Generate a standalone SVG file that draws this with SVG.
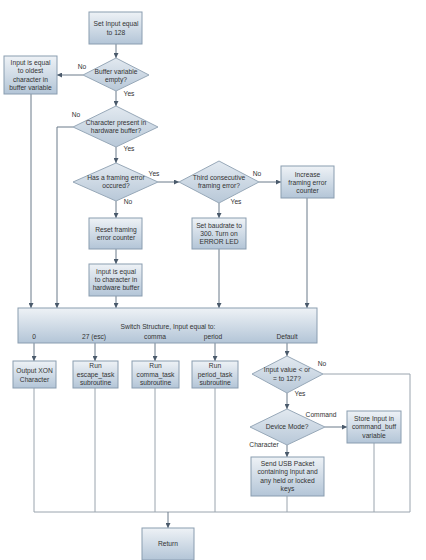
<svg xmlns="http://www.w3.org/2000/svg" width="426" height="560" viewBox="0 0 426 560">
<defs>
<linearGradient id="gb" x1="0" y1="0" x2="0" y2="1"><stop offset="0" stop-color="#eef2f6"/><stop offset="1" stop-color="#b3c5d7"/></linearGradient>
<linearGradient id="gd" x1="0" y1="0" x2="0" y2="1"><stop offset="0" stop-color="#e2e9f0"/><stop offset="1" stop-color="#b8c8d8"/></linearGradient>
<marker id="arr" markerWidth="5" markerHeight="5" refX="5" refY="2.5" orient="auto" markerUnits="userSpaceOnUse"><path d="M0,0 L5,2.5 L0,5 z" fill="#4a5a6b"/></marker>
<style>
.box{fill:url(#gb);stroke:#8a9db0;stroke-width:1}
.dia{fill:url(#gd);stroke:#97a8b8;stroke-width:1}
text{font-family:"Liberation Sans",Arial,sans-serif;font-size:6.7px;fill:#333;text-anchor:middle}
.ar{stroke:#6a7a8a;stroke-width:1;fill:none;marker-end:url(#arr)}
.ln{stroke:#9aa4ae;stroke-width:1;fill:none}
</style>
</defs>
<rect width="426" height="560" fill="#fff"/>
<g id="connectors">
<line class="ar" x1="116" y1="44" x2="116" y2="58"/>
<line class="ar" x1="83" y1="75" x2="57" y2="75"/>
<line class="ar" x1="116" y1="91" x2="116" y2="106"/>
<line class="ar" x1="116" y1="147" x2="116" y2="163"/>
<line class="ar" x1="158" y1="182" x2="179" y2="182"/>
<line class="ar" x1="116" y1="201" x2="116" y2="218"/>
<line class="ar" x1="219" y1="203" x2="219" y2="218"/>
<line class="ar" x1="259" y1="182" x2="281" y2="182"/>
<line class="ar" x1="116" y1="249" x2="116" y2="264"/>
<line class="ar" x1="116" y1="296" x2="116" y2="308"/>
<line class="ar" x1="31" y1="94" x2="31" y2="308"/>
<polyline class="ar" points="73,127 57,127 57,308"/>
<line class="ar" x1="219" y1="249" x2="219" y2="308"/>
<line class="ar" x1="307" y1="198" x2="307" y2="308"/>
<line class="ar" x1="34" y1="343" x2="34" y2="361"/>
<line class="ar" x1="95" y1="343" x2="95" y2="361"/>
<line class="ar" x1="155" y1="343" x2="155" y2="361"/>
<line class="ar" x1="215" y1="343" x2="215" y2="361"/>
<line class="ar" x1="287" y1="343" x2="287" y2="356"/>
<line class="ar" x1="287" y1="393" x2="287" y2="409"/>
<line class="ar" x1="325" y1="427" x2="347" y2="427"/>
<line class="ar" x1="287" y1="445" x2="287" y2="457"/>
<polyline class="ln" points="323,374 410,374 410,512"/>
<line class="ln" x1="34" y1="388" x2="34" y2="512"/>
<line class="ln" x1="95" y1="388" x2="95" y2="512"/>
<line class="ln" x1="155" y1="388" x2="155" y2="512"/>
<line class="ln" x1="215" y1="388" x2="215" y2="512"/>
<line class="ln" x1="287" y1="496" x2="287" y2="512"/>
<line class="ln" x1="374" y1="443" x2="374" y2="512"/>
<line class="ln" x1="34" y1="512" x2="410" y2="512"/>
<line class="ar" x1="168" y1="512" x2="168" y2="528"/>
<text x="82" y="69">No</text>
<text x="129" y="96">Yes</text>
<text x="76" y="117">No</text>
<text x="129" y="151">Yes</text>
<text x="154" y="176">Yes</text>
<text x="128" y="204">No</text>
<text x="257" y="176">No</text>
<text x="236" y="204">Yes</text>
<text x="322" y="366">No</text>
<text x="300" y="396">Yes</text>
<text x="321" y="417">Command</text>
<text x="264" y="447">Character</text>
</g>
<g id="start"><rect class="box" x="89" y="12" width="53" height="32"/><text x="116" y="25.5">Set Input equal</text><text x="116" y="34.5">to 128</text></g>
<g id="buffer-empty"><polygon class="dia" points="116,58 149,75 116,91 83,75"/><text x="116" y="73.5">Buffer variable</text><text x="116" y="81.5">empty?</text></g>
<g id="oldest"><rect class="box" x="4" y="56" width="53" height="38"/><text x="30.5" y="64.5">Input is equal</text><text x="30.5" y="73">to oldest</text><text x="30.5" y="81.5">character in</text><text x="30.5" y="90">buffer variable</text></g>
<g id="char-present"><polygon class="dia" points="116,106 158,127 116,147 73,127"/><text x="116" y="124.5">Character present in</text><text x="116" y="132.5">hardware buffer?</text></g>
<g id="framing-error"><polygon class="dia" points="116,163 158,182 116,201 73,182"/><text x="116" y="179.5">Has a framing error</text><text x="116" y="188">occured?</text></g>
<g id="third"><polygon class="dia" points="219,161 259,182 219,203 179,182"/><text x="219" y="179.5">Third consecutive</text><text x="219" y="188">framing error?</text></g>
<g id="increase"><rect class="box" x="281" y="166" width="53" height="32"/><text x="307.5" y="176.5">Increase</text><text x="307.5" y="184.5">framing error</text><text x="307.5" y="192.5">counter</text></g>
<g id="reset"><rect class="box" x="89" y="218" width="53" height="31"/><text x="116" y="231.5">Reset framing</text><text x="116" y="240">error counter</text></g>
<g id="baud"><rect class="box" x="192" y="218" width="54" height="31"/><text x="219" y="227.5">Set baudrate to</text><text x="219" y="235.5">300. Turn on</text><text x="219" y="243.5">ERROR LED</text></g>
<g id="input-hw"><rect class="box" x="89" y="264" width="53" height="32"/><text x="116" y="273.5">Input is equal</text><text x="116" y="281.5">to character in</text><text x="116" y="289.5">hardware buffer</text></g>
<g id="switch"><rect class="box" x="18" y="308" width="299" height="35"/><text x="168" y="328.5">Switch Structure, Input equal to:</text><text x="34" y="338.5">0</text><text x="94" y="338.5">27 (esc)</text><text x="155" y="338.5">comma</text><text x="213" y="338.5">period</text><text x="287" y="338.5">Default</text></g>
<g id="xon"><rect class="box" x="13" y="361" width="43" height="27"/><text x="34.5" y="373">Output XON</text><text x="34.5" y="381.5">Character</text></g>
<g id="esc"><rect class="box" x="73" y="361" width="45" height="27"/><text x="95.5" y="368">Run</text><text x="95.5" y="376.5">escape_task</text><text x="95.5" y="385">subroutine</text></g>
<g id="comma"><rect class="box" x="132" y="361" width="47" height="27"/><text x="155.5" y="368">Run</text><text x="155.5" y="376.5">comma_task</text><text x="155.5" y="385">subroutine</text></g>
<g id="period"><rect class="box" x="192" y="361" width="46" height="27"/><text x="215" y="368">Run</text><text x="215" y="376.5">period_task</text><text x="215" y="385">subroutine</text></g>
<g id="input-value"><polygon class="dia" points="287,356 323,374 287,393 252,374"/><text x="287" y="372">Input value &lt; or</text><text x="287" y="380.5">= to 127?</text></g>
<g id="device-mode"><polygon class="dia" points="287,409 325,427 287,445 250,427"/><text x="287" y="429">Device Mode?</text></g>
<g id="store"><rect class="box" x="347" y="411" width="54" height="32"/><text x="374" y="420.5">Store Input in</text><text x="374" y="429">command_buff</text><text x="374" y="437.5">variable</text></g>
<g id="usb"><rect class="box" x="251" y="457" width="73" height="39"/><text x="287.5" y="465.5">Send USB Packet</text><text x="287.5" y="474">containing Input and</text><text x="287.5" y="482.5">any held or locked</text><text x="287.5" y="491">keys</text></g>
<g id="return"><rect class="box" x="142" y="528" width="52" height="32"/><text x="168" y="545.5">Return</text></g>
</svg>
